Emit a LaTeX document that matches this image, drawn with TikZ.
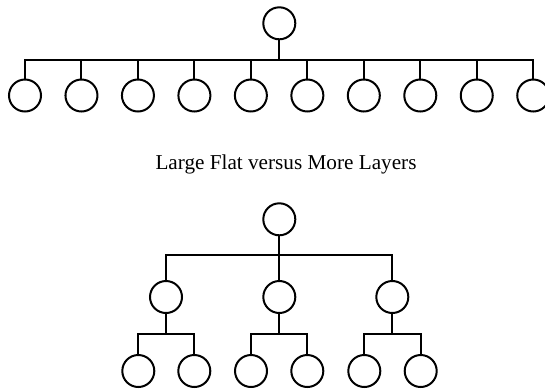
\documentclass[tikz,border=0pt]{standalone}
\usepackage{fontspec}
\setmainfont{Liberation Serif}
\begin{document}
\begin{tikzpicture}[x=1pt,y=-1pt,
  orgnode/.style={circle,draw=black,line width=2pt,minimum size=32pt,inner sep=0pt,fill=white},
  link/.style={draw=black,line width=2pt,line join=miter}]
\useasboundingbox (0,0) rectangle (545,389);
% ---------- top: large flat ----------
\node[orgnode] (r) at (279.3,23.3) {};
\coordinate (bar) at (0,59.5);
\foreach \i in {1,...,10} {
  \node[orgnode] (c\i) at ({25+(\i-1)*56.47},95.5) {};
}
\draw[link] (c1.north) -- (c1.north |- bar) -- (c10.north |- bar) -- (c10.north);
\draw[link] (r.south) -- (r.south |- bar);
\foreach \i in {2,...,9} {
  \draw[link] (c\i.north) -- (c\i.north |- bar);
}
% ---------- caption ----------
\node[anchor=base,inner sep=0pt,font=\fontsize{21.2}{25}\selectfont] (cap) at (286,169.5) {Large Flat versus More Layers};
% ---------- bottom: more layers ----------
\node[orgnode] (R) at (279.3,219.3) {};
\coordinate (barB) at (0,254.5);
\node[orgnode] (m1) at (166,297) {};
\node[orgnode] (m2) at (279.3,297) {};
\node[orgnode] (m3) at (392.3,297) {};
\draw[link] (m1.north) -- (m1.north |- barB) -- (m3.north |- barB) -- (m3.north);
\draw[link] (R.south) -- (m2.north);
\coordinate (barC) at (0,334.3);
\node[orgnode] (l1) at (138.3,371) {};
\node[orgnode] (l2) at (194.3,371) {};
\node[orgnode] (l3) at (251,371) {};
\node[orgnode] (l4) at (307.3,371) {};
\node[orgnode] (l5) at (364.3,371) {};
\node[orgnode] (l6) at (420.7,371) {};
\draw[link] (l1.north) -- (l1.north |- barC) -- (l2.north |- barC) -- (l2.north);
\draw[link] (m1.south) -- (m1.south |- barC);
\draw[link] (l3.north) -- (l3.north |- barC) -- (l4.north |- barC) -- (l4.north);
\draw[link] (m2.south) -- (m2.south |- barC);
\draw[link] (l5.north) -- (l5.north |- barC) -- (l6.north |- barC) -- (l6.north);
\draw[link] (m3.south) -- (m3.south |- barC);
\end{tikzpicture}
\end{document}
